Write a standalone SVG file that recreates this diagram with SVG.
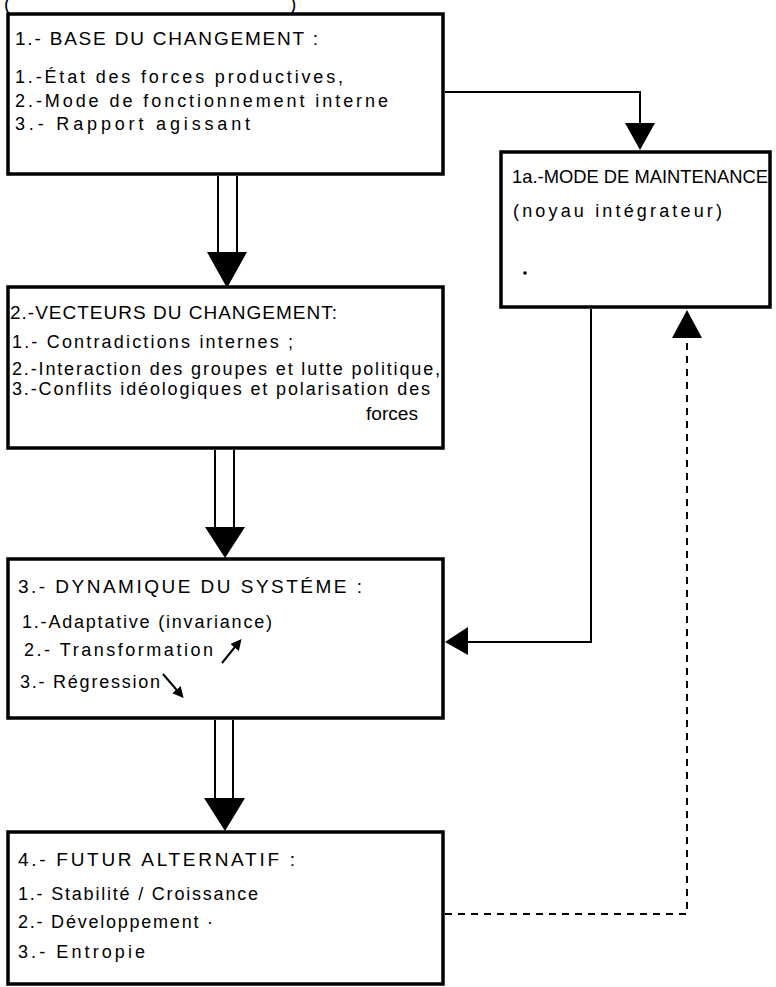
<svg xmlns="http://www.w3.org/2000/svg" width="776" height="987" viewBox="0 0 776 987">
<style>
.box{fill:#fff;stroke:#000;stroke-width:3.5}
.t{font-family:"Liberation Sans",Arial,sans-serif;font-size:18px;fill:#000}
.h{font-family:"Liberation Sans",Arial,sans-serif;font-size:19px;fill:#000}
.ln{fill:none;stroke:#000;stroke-width:2}
.dash{fill:none;stroke:#000;stroke-width:2;stroke-dasharray:7 6}
.head{fill:#000}
</style>
<defs>
<marker id="sm" markerWidth="11" markerHeight="11" refX="7" refY="5.5" orient="auto" markerUnits="userSpaceOnUse">
<path d="M0,0 L11,5.5 L0,11 Z" fill="#000"/>
</marker>
</defs>
<rect width="776" height="987" fill="#fff"/>
<text class="h" x="4" y="10" font-size="9">(</text>
<text class="h" x="290" y="10" font-size="9">)</text>

<g id="connectors">
<!-- 1 to 2 -->
<line class="ln" x1="218" y1="176" x2="218" y2="253"/>
<line class="ln" x1="237" y1="176" x2="237" y2="253"/>
<path class="head" d="M207,252 L247,252 L227,288 Z"/>
<!-- 2 to 3 -->
<line class="ln" x1="215" y1="450" x2="215" y2="528"/>
<line class="ln" x1="234" y1="450" x2="234" y2="528"/>
<path class="head" d="M205,527 L245,527 L225,558 Z"/>
<!-- 3 to 4 -->
<line class="ln" x1="215" y1="720" x2="215" y2="799"/>
<line class="ln" x1="233" y1="720" x2="233" y2="799"/>
<path class="head" d="M204,798 L245,798 L225,831 Z"/>
<!-- 1 to 1a -->
<polyline class="ln" points="445,92 640,92 640,124"/>
<path class="head" d="M625,123 L655,123 L640,150 Z"/>
<!-- 1a to 3 -->
<polyline class="ln" points="591,309 591,642 467,642"/>
<path class="head" d="M468,627 L468,655 L445,642 Z"/>
<!-- 4 to 1a dashed -->
<polyline class="dash" points="445,914 687,914 687,338"/>
<path class="head" d="M672,338 L702,338 L687,310 Z"/>
</g>

<g id="node1">
<rect class="box" x="8" y="14" width="435" height="160"/>
<text class="h" x="15" y="45" textLength="303" lengthAdjust="spacing">1.- BASE DU CHANGEMENT :</text>
<text class="t" x="15" y="83" textLength="328" lengthAdjust="spacing">1.-État des forces productives,</text>
<text class="t" x="15" y="107" textLength="373" lengthAdjust="spacing">2.-Mode de fonctionnement interne</text>
<text class="t" x="15" y="130" textLength="235" lengthAdjust="spacing">3.- Rapport agissant</text>
</g>

<g id="node1a">
<rect class="box" x="501" y="152" width="269" height="155"/>
<text class="h" x="512" y="183" textLength="256" lengthAdjust="spacingAndGlyphs">1a.-MODE DE MAINTENANCE</text>
<text class="t" x="513" y="217" textLength="209" lengthAdjust="spacing">(noyau intégrateur)</text>
<circle cx="525" cy="273" r="1.8" fill="#000"/>
</g>

<g id="node2">
<rect class="box" x="8" y="287" width="435" height="161"/>
<text class="h" x="10" y="319" textLength="327" lengthAdjust="spacing">2.-VECTEURS DU CHANGEMENT:</text>
<text class="t" x="12" y="348" textLength="281" lengthAdjust="spacing">1.- Contradictions internes ;</text>
<text class="t" x="12" y="375" textLength="428" lengthAdjust="spacing">2.-Interaction des groupes et lutte politique,</text>
<text class="t" x="12" y="395" textLength="418" lengthAdjust="spacing">3.-Conflits idéologiques et polarisation des</text>
<text class="t" x="366" y="420" textLength="52" lengthAdjust="spacingAndGlyphs">forces</text>
</g>

<g id="node3">
<rect class="box" x="8" y="559" width="435" height="159"/>
<text class="h" x="18" y="593" textLength="344" lengthAdjust="spacing">3.- DYNAMIQUE DU SYSTÉME :</text>
<text class="t" x="22" y="628" textLength="250" lengthAdjust="spacing">1.-Adaptative (invariance)</text>
<text class="t" x="24" y="656" textLength="189" lengthAdjust="spacing">2.- Transformation</text>
<line class="ln" x1="222" y1="663" x2="239" y2="642" marker-end="url(#sm)"/>
<text class="t" x="20" y="688" textLength="140" lengthAdjust="spacing">3.- Régression</text>
<line class="ln" x1="163" y1="674" x2="181" y2="695" marker-end="url(#sm)"/>
</g>

<g id="node4">
<rect class="box" x="8" y="832" width="435" height="152"/>
<text class="h" x="18" y="866" textLength="277" lengthAdjust="spacing">4.- FUTUR ALTERNATIF :</text>
<text class="t" x="18" y="900" textLength="240" lengthAdjust="spacing">1.- Stabilité / Croissance</text>
<text class="t" x="18" y="928" textLength="195" lengthAdjust="spacing">2.- Développement ·</text>
<text class="t" x="18" y="958" textLength="127" lengthAdjust="spacing">3.- Entropie</text>
</g>
</svg>
